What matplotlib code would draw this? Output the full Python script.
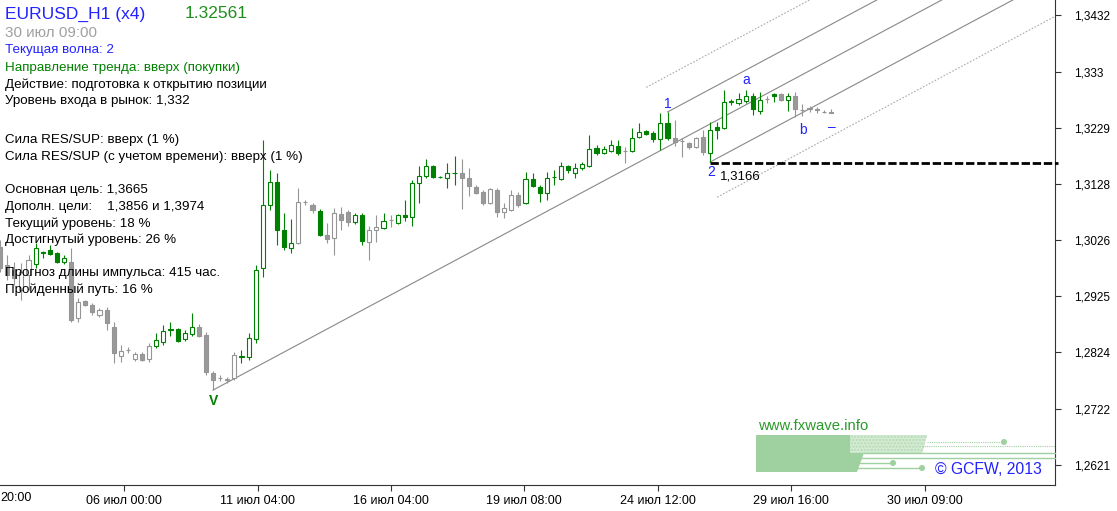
import matplotlib
matplotlib.use('Agg')
import matplotlib.pyplot as plt
import numpy as np
from matplotlib.patches import Polygon, Circle

plt.rcParams['font.family'] = ['Liberation Sans', 'DejaVu Sans']
plt.rcParams['savefig.bbox'] = 'standard'

# ---------------- data ----------------
opens = [1.30139, 1.29814, 1.29724, 1.29364, 1.29634, 1.29832, 1.30030, 1.30084, 1.30030, 1.29868,
         1.29868, 1.28859, 1.29165, 1.29093, 1.28913, 1.29003, 1.28697, 1.28174, 1.28282, 1.28120,
         1.28210, 1.28120, 1.28354, 1.28426, 1.28661, 1.28661, 1.28481, 1.28571, 1.28697, 1.28553,
         1.27868, 1.27778, 1.27742, 1.27778, 1.28156, 1.28156, 1.28481, 1.29760, 1.30895, 1.31310,
         1.30445, 1.30121, 1.30211, 1.30950, 1.30895, 1.30787, 1.30355, 1.30301, 1.30733, 1.30769,
         1.30589, 1.30715, 1.30229, 1.30445, 1.30481, 1.30625, 1.30571, 1.30715, 1.30679, 1.31292,
         1.31418, 1.31598, 1.31400, 1.31382, 1.31472, 1.31472, 1.31382, 1.31220, 1.31130, 1.30931,
         1.31166, 1.30769, 1.30805, 1.31076, 1.30931, 1.31364, 1.31220, 1.31112, 1.31400, 1.31364,
         1.31598, 1.31472, 1.31562, 1.31598, 1.31923, 1.31833, 1.31869, 1.31959, 1.31869, 1.31869,
         1.32121, 1.32229, 1.32193, 1.32085, 1.32373, 1.32103, 1.32049, 1.32013, 1.31941, 1.32121,
         1.31833, 1.32301, 1.32283, 1.32752, 1.32734, 1.32770, 1.32860, 1.32590, 1.32806, 1.32896,
         1.32896, 1.32788, 1.32860, 1.32608, 1.32644, 1.32626, 1.32572, 1.32572]
highs = [1.30265, 1.29994, 1.29868, 1.29850, 1.29994, 1.30211, 1.30066, 1.30175, 1.30048, 1.29994,
         1.30121, 1.29219, 1.29183, 1.29129, 1.29039, 1.29057, 1.28787, 1.28372, 1.28336, 1.28246,
         1.28246, 1.28409, 1.28589, 1.28733, 1.28787, 1.28679, 1.28643, 1.28949, 1.28751, 1.28607,
         1.27904, 1.27832, 1.27796, 1.28246, 1.28282, 1.28589, 1.29814, 1.32067, 1.31526, 1.31472,
         1.30751, 1.30643, 1.31202, 1.30986, 1.30931, 1.30823, 1.30571, 1.30841, 1.30859, 1.30805,
         1.30751, 1.30751, 1.30517, 1.30715, 1.30751, 1.30715, 1.30733, 1.30986, 1.31346, 1.31598,
         1.31725, 1.31616, 1.31418, 1.31652, 1.31779, 1.31725, 1.31562, 1.31256, 1.31166, 1.31202,
         1.31202, 1.30931, 1.31166, 1.31130, 1.31490, 1.31472, 1.31256, 1.31490, 1.31526, 1.31670,
         1.31616, 1.31652, 1.31670, 1.32157, 1.31977, 1.31959, 1.32067, 1.32067, 1.31941, 1.32283,
         1.32373, 1.32247, 1.32229, 1.32554, 1.32572, 1.32427, 1.32103, 1.32031, 1.32121, 1.32247,
         1.32391, 1.32391, 1.32968, 1.32806, 1.32914, 1.32968, 1.32914, 1.32932, 1.32860, 1.32914,
         1.32914, 1.32914, 1.32932, 1.32716, 1.32680, 1.32662, 1.32608, 1.32626]
lows = [1.29688, 1.29544, 1.29454, 1.29183, 1.29364, 1.29760, 1.29940, 1.29994, 1.29850, 1.29832,
        1.28787, 1.28787, 1.29075, 1.28913, 1.28877, 1.28643, 1.28048, 1.28066, 1.28228, 1.28084,
        1.28084, 1.28066, 1.28318, 1.28372, 1.28535, 1.28426, 1.28445, 1.28535, 1.28517, 1.27832,
        1.27561, 1.27724, 1.27688, 1.27742, 1.28048, 1.28102, 1.28409, 1.29598, 1.30805, 1.30175,
        1.30084, 1.30030, 1.30193, 1.30895, 1.30751, 1.30337, 1.30211, 1.29994, 1.30445, 1.30517,
        1.30553, 1.30175, 1.29904, 1.30229, 1.30463, 1.30499, 1.30553, 1.30607, 1.30517, 1.30931,
        1.31382, 1.31382, 1.31382, 1.31202, 1.31256, 1.30823, 1.31058, 1.31094, 1.30895, 1.30914,
        1.30679, 1.30661, 1.30787, 1.30859, 1.30914, 1.31220, 1.30950, 1.30986, 1.31256, 1.31346,
        1.31472, 1.31382, 1.31526, 1.31580, 1.31797, 1.31815, 1.31851, 1.31797, 1.31652, 1.31851,
        1.32103, 1.32157, 1.32031, 1.31887, 1.32067, 1.31959, 1.31760, 1.31905, 1.31923, 1.31797,
        1.31670, 1.32085, 1.32265, 1.32698, 1.32698, 1.32734, 1.32517, 1.32535, 1.32734, 1.32752,
        1.32770, 1.32590, 1.32481, 1.32499, 1.32572, 1.32554, 1.32554, 1.32554]
closes = [1.29760, 1.29634, 1.29580, 1.29688, 1.29904, 1.30121, 1.30048, 1.30012, 1.29868, 1.29940,
          1.28823, 1.29147, 1.29093, 1.28967, 1.29003, 1.28769, 1.28228, 1.28264, 1.28282, 1.28210,
          1.28102, 1.28354, 1.28463, 1.28625, 1.28643, 1.28445, 1.28589, 1.28697, 1.28535, 1.27886,
          1.27742, 1.27778, 1.27760, 1.28192, 1.28174, 1.28499, 1.29724, 1.30895, 1.31310, 1.30445,
          1.30139, 1.30211, 1.30950, 1.30950, 1.30805, 1.30355, 1.30283, 1.30751, 1.30625, 1.30589,
          1.30715, 1.30247, 1.30445, 1.30499, 1.30607, 1.30625, 1.30715, 1.30679, 1.31292, 1.31418,
          1.31598, 1.31400, 1.31400, 1.31472, 1.31472, 1.31382, 1.31238, 1.31112, 1.30931, 1.31184,
          1.30769, 1.30841, 1.31076, 1.30895, 1.31364, 1.31238, 1.31112, 1.31382, 1.31400, 1.31598,
          1.31526, 1.31562, 1.31634, 1.31905, 1.31833, 1.31905, 1.31977, 1.31833, 1.31869, 1.32103,
          1.32211, 1.32175, 1.32085, 1.32373, 1.32103, 1.32031, 1.32049, 1.31941, 1.32103, 1.31851,
          1.32247, 1.32247, 1.32752, 1.32770, 1.32806, 1.32860, 1.32626, 1.32788, 1.32806, 1.32860,
          1.32788, 1.32860, 1.32626, 1.32608, 1.32626, 1.32608, 1.32572, 1.32561]
# candle colour group: G = green (wave), S = grey
candle_groups = ("SSSSS" "GGGGG" "SSSSSSSSSSSS" "GGGGGG" "SSSSSS" "GGGGGGGG" "SSS" "G" "SSSS"
                 "GG" "SS" "G" "S" "GGGGGGGGG" "SSSSSSSSS" "GGGGGGGGGGGGGG" "S" "GGGGGG"
                 "SSSSS" "GGGGGGGG" "S" "G" "S" "G" "SSSSSS")

y_ticks = [1.3432, 1.3330, 1.3229, 1.3128, 1.3026, 1.2925, 1.2824, 1.2722, 1.2621]
x_tick_labels = ["06 июл 00:00", "11 июл 04:00", "16 июл 04:00", "19 июл 08:00",
                 "24 июл 12:00", "29 июл 16:00", "30 июл 09:00"]
x_cut_label = "20:00"   # right end of a label cut off at the left edge

# wave marks: (label, bar index, anchored at 'high' or 'low')
wave_marks = [("V", 30, "low"), ("1", 94, "high"), ("2", 100, "low"),
              ("a", 105, "high"), ("b", 113, "low"), ("–", 117, "low")]
wave2_level = 1.3166
channel_slope = 0.000685          # price per bar
channel_outer = [0.01276, -0.01388]  # outer dotted lines, offset from main line

info_lines = [
    ("Текущая волна: 2", "blue"),
    ("Направление тренда: вверх (покупки)", "green"),
    ("Действие: подготовка к открытию позиции", "black"),
    ("Уровень входа в рынок: 1,332", "black"),
    ("Сила RES/SUP: вверх (1 %)", "black"),
    ("Сила RES/SUP (с учетом времени): вверх (1 %)", "black"),
    ("Основная цель: 1,3665", "black"),
    ("Дополн. цели:    1,3856 и 1,3974", "black"),
    ("Текущий уровень: 18 %", "black"),
    ("Достигнутый уровень: 26 %", "black"),
    ("Прогноз длины импульса: 415 час.", "black"),
    ("Пройденный путь: 16 %", "black"),
]

# ---------------- figure ----------------
W, H = 1117, 511
fig = plt.figure(figsize=(W / 100, H / 100), dpi=100)
fig.patch.set_facecolor('white')

ax_right_px, ax_bottom_px = 1055, 485
ax = fig.add_axes([0, (H - ax_bottom_px) / H, ax_right_px / W, ax_bottom_px / H])
px_per_bar = 7.1
price_per_px = (1.3432 - 1.2621) / 450.0
ax.set_xlim(-0.1 / px_per_bar, (ax_right_px - 0.1) / px_per_bar)
ax.set_ylim(1.3432 - (ax_bottom_px - 15) * price_per_px, 1.3432 + 15 * price_per_px)
ax.set_autoscale_on(False)

GREEN = '#008000'
GREY_W = '#959595'
GREY_F = '#9a9a9a'
n = len(opens)
for i in range(n):
    g = candle_groups[i] == 'G'
    c = GREEN if g else GREY_W
    ax.vlines(i, lows[i], highs[i], color=c, lw=0.8, zorder=2)
    o, cl = opens[i], closes[i]
    lo, hi = min(o, cl), max(o, cl)
    if cl >= o:
        face = 'white'
    else:
        face = GREEN if g else GREY_F
    ax.bar(i, hi - lo, bottom=lo, width=0.58, facecolor=face, edgecolor=c, lw=0.8, zorder=3)

# channel lines
iv = 30
p_main = lows[iv]
x_end = (ax_right_px - 0.1) / px_per_bar
def chan_line(i0, p0, start, style, color):
    xs = np.array([start, x_end])
    ys = p0 + channel_slope * (xs - i0)
    ax.plot(xs, ys, ls=style, color=color, lw=0.8, zorder=1)

chan_line(iv, p_main, iv, '-', '#888888')
chan_line(94, highs[94], 94, '-', '#888888')
chan_line(100, lows[100], 100, '-', '#888888')
chan_line(iv, p_main + channel_outer[0], 91, (0, (1.5, 1.5)), '#aaaaaa')
chan_line(iv, p_main + channel_outer[1], 101, (0, (1.5, 1.5)), '#aaaaaa')

# wave-2 level
ax.plot([100, x_end + 0.45], [wave2_level, wave2_level], color='black', lw=2,
        ls=(0, (3, 1)), zorder=4, clip_on=False)
ax.annotate("1,3166", (100, wave2_level), xytext=(7, -10), textcoords='offset points',
            fontsize=9.5, color='black', va='center', ha='left')

label_dy = {"V": -8, "1": 6, "2": -7, "a": 7, "b": -10, "–": -10}
for lab, idx, where in wave_marks:
    p = highs[idx] if where == 'high' else lows[idx]
    col = GREEN if lab == 'V' else '#2222ff'
    ax.annotate(lab, (idx, p), xytext=(0.5, label_dy[lab]), textcoords='offset points',
                fontsize=10, color=col, ha='center', va='center',
                fontweight='bold' if lab == 'V' else 'normal')

# axes styling
for s in ['top', 'left']:
    ax.spines[s].set_visible(False)
ax.spines['right'].set_color('#333333')
ax.spines['bottom'].set_color('#333333')
ax.yaxis.tick_right()
ax.set_yticks(y_ticks)
ax.set_yticklabels([f"{v:.4f}".rstrip('0').replace('.', ',') for v in y_ticks])
xtick_px = [124, 258, 391, 524, 658, 791, 925]
ax.set_xticks([(p - 0.1) / px_per_bar for p in xtick_px])
ax.set_xticklabels(x_tick_labels)
ax.tick_params(axis='both', direction='out', length=4, width=0.8, colors='#333333',
               labelcolor='black', pad=3)
ax.tick_params(axis='x', labelsize=9)
ax.tick_params(axis='y', pad=10, labelsize=8.5)
ax.set_facecolor('none')

# ---------------- overlay (pixel coordinates) ----------------
ov = fig.add_axes([0, 0, 1, 1], zorder=5)
ov.set_xlim(0, W)
ov.set_ylim(H, 0)
ov.axis('off')
ov.patch.set_alpha(0)

ov.text(0, 498, x_cut_label, fontsize=9, color='black', va='center', ha='left')
ov.text(5, 14, "EURUSD_H1 (x4)", fontsize=12.5, color='#2222ff', va='center', ha='left')
ov.text(185, 14, f"{closes[-1]:.5f}", fontsize=12.5, color='#1f8f1f', va='center', ha='left')
ov.text(5, 33, "30 июл 09:00", fontsize=11, color='#a0a0a0', va='center', ha='left')
info_y = [50, 68, 84.5, 101, 140, 157, 190, 207, 224, 240, 273, 290]
cmap = {'blue': '#2222ff', 'green': '#008000', 'black': 'black'}
for (t, c), y in zip(info_lines, info_y):
    ov.text(5, y, t, fontsize=9.6, color=cmap[c], va='center', ha='left')

# watermark
LG = '#9fd09f'
ov.add_patch(Polygon([(756, 435), (927, 435), (922, 453), (864, 453), (857, 472), (756, 472)],
                     closed=True, facecolor=LG, edgecolor='none'))
ov.add_patch(Polygon([(850, 435), (927, 435), (922, 453), (850, 453)], closed=True,
                     facecolor='#d3ead3', edgecolor='#b5dcb5', lw=0, hatch='.....'))
ov.plot([927, 1004], [442, 442], color=LG, lw=0.8, ls=(0, (1, 1)))
ov.plot([922, 1055], [446, 446], color=LG, lw=0.8, ls=(0, (1, 1)))
ov.plot([864, 1055], [453, 453], color=LG, lw=1.0)
ov.plot([862, 1055], [458, 458], color=LG, lw=1.0)
ov.plot([860, 893], [463, 463], color=LG, lw=1.0)
ov.plot([857, 922], [468, 468], color=LG, lw=1.0)
for cx, cy in [(1004, 442), (893, 463), (922, 468)]:
    ov.add_patch(Circle((cx, cy), 3, facecolor=LG, edgecolor='none'))
ov.text(758, 426, "www.fxwave.info", fontsize=10.7, color='#2a9a2a', va='center', ha='left')
ov.text(935, 469, "© GCFW, 2013", fontsize=11.3, color='#2222ff', va='center', ha='left')

fig.savefig('out.png', dpi=100)
